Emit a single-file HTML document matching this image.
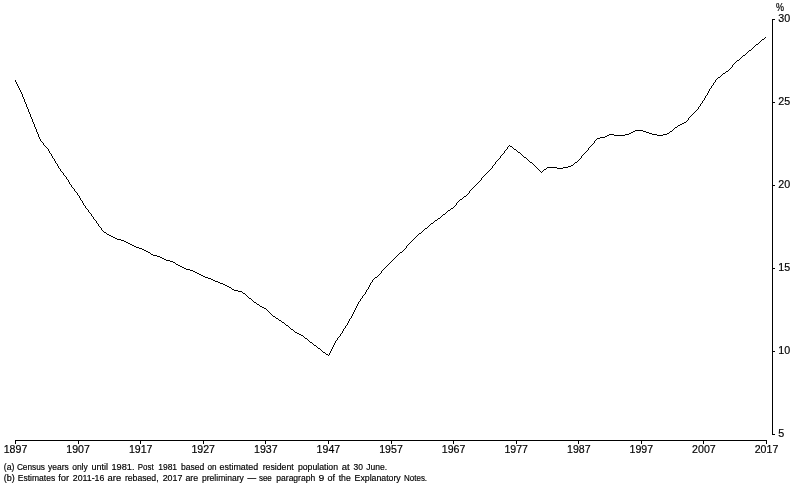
<!DOCTYPE html>
<html><head><meta charset="utf-8"><title>Chart</title>
<style>html,body{margin:0;padding:0;background:#fff}svg{display:block}text{font-family:"Liberation Sans",sans-serif;fill:#000;stroke:#000;stroke-width:0.18px}</style></head><body>
<svg width="794" height="491" viewBox="0 0 794 491">
<rect width="794" height="491" fill="#fff"/>
<g stroke="#000" stroke-width="1" fill="none" shape-rendering="crispEdges">
<path d="M15 440.5H767"/>
<path d="M15.5 440.5V444"/>
<path d="M78.5 440.5V444"/>
<path d="M140.5 440.5V444"/>
<path d="M203.5 440.5V444"/>
<path d="M265.5 440.5V444"/>
<path d="M328.5 440.5V444"/>
<path d="M391.5 440.5V444"/>
<path d="M453.5 440.5V444"/>
<path d="M516.5 440.5V444"/>
<path d="M578.5 440.5V444"/>
<path d="M641.5 440.5V444"/>
<path d="M703.5 440.5V444"/>
<path d="M766.5 440.5V444"/>
<path d="M772.5 19V434.5"/>
<path d="M772.5 19.5H775"/>
<path d="M772.5 102.5H775"/>
<path d="M772.5 185.5H775"/>
<path d="M772.5 268.5H775"/>
<path d="M772.5 351.5H775"/>
<path d="M772.5 434.5H775"/>
<path stroke="none" fill="#000" d="M15 80h1v2h-1zM16 82h1v2h-1zM17 84h1v2h-1zM18 86h1v2h-1zM19 88h1v2h-1zM20 90h1v2h-1zM21 92h1v2h-1zM22 94h1v3h-1zM23 97h1v2h-1zM24 99h1v3h-1zM25 102h1v2h-1zM26 104h1v3h-1zM27 107h1v2h-1zM28 109h1v3h-1zM29 112h1v2h-1zM30 114h1v3h-1zM31 117h1v2h-1zM32 119h1v3h-1zM33 122h1v2h-1zM34 124h1v3h-1zM35 127h1v2h-1zM36 129h1v3h-1zM37 132h1v2h-1zM38 134h1v3h-1zM39 137h1v2h-1zM40 139h1v2h-1zM41 141h1v1h-1zM42 142h1v1h-1zM43 143h1v2h-1zM44 145h1v1h-1zM45 146h1v1h-1zM46 147h1v1h-1zM47 148h1v1h-1zM48 149h1v2h-1zM49 151h1v2h-1zM50 153h1v1h-1zM51 154h1v2h-1zM52 156h1v2h-1zM53 158h1v1h-1zM54 159h1v2h-1zM55 161h1v2h-1zM56 163h1v1h-1zM57 164h1v2h-1zM58 166h1v2h-1zM59 168h1v1h-1zM60 169h1v2h-1zM61 171h1v1h-1zM62 172h1v1h-1zM63 173h1v2h-1zM64 175h1v1h-1zM65 176h1v1h-1zM66 177h1v2h-1zM67 179h1v1h-1zM68 180h1v2h-1zM69 182h1v2h-1zM70 184h1v1h-1zM71 185h1v2h-1zM72 187h1v1h-1zM73 188h1v1h-1zM74 189h1v2h-1zM75 191h1v1h-1zM76 192h1v1h-1zM77 193h1v2h-1zM78 195h1v1h-1zM79 196h1v2h-1zM80 198h1v2h-1zM81 200h1v1h-1zM82 201h1v2h-1zM83 203h1v2h-1zM84 205h1v1h-1zM85 206h1v2h-1zM86 208h1v1h-1zM87 209h1v1h-1zM88 210h1v2h-1zM89 212h1v1h-1zM90 213h1v1h-1zM91 214h1v2h-1zM92 216h1v1h-1zM93 217h1v2h-1zM94 219h1v1h-1zM95 220h1v1h-1zM96 221h1v2h-1zM97 223h1v1h-1zM98 224h1v2h-1zM99 226h1v1h-1zM100 227h1v1h-1zM101 228h1v2h-1zM102 230h1v1h-1zM103 231h1v1h-1zM104 232h2v1h-2zM106 233h1v1h-1zM107 234h2v1h-2zM109 235h2v1h-2zM111 236h2v1h-2zM113 237h2v1h-2zM115 238h2v1h-2zM117 239h4v1h-4zM121 240h3v1h-3zM124 241h2v1h-2zM126 242h2v1h-2zM128 243h2v1h-2zM130 244h2v1h-2zM132 245h2v1h-2zM134 246h2v1h-2zM136 247h3v1h-3zM139 248h3v1h-3zM142 249h2v1h-2zM144 250h2v1h-2zM146 251h2v1h-2zM148 252h2v1h-2zM150 253h1v1h-1zM151 254h2v1h-2zM153 255h4v1h-4zM157 256h3v1h-3zM160 257h2v1h-2zM162 258h2v1h-2zM164 259h2v1h-2zM166 260h4v1h-4zM170 261h3v1h-3zM173 262h2v1h-2zM175 263h1v1h-1zM176 264h2v1h-2zM178 265h2v1h-2zM180 266h2v1h-2zM182 267h2v1h-2zM184 268h2v1h-2zM186 269h4v1h-4zM190 270h3v1h-3zM193 271h2v1h-2zM195 272h2v1h-2zM197 273h2v1h-2zM199 274h2v1h-2zM201 275h2v1h-2zM203 276h2v1h-2zM205 277h3v1h-3zM208 278h3v1h-3zM211 279h2v1h-2zM213 280h2v1h-2zM215 281h3v1h-3zM218 282h2v1h-2zM220 283h3v1h-3zM223 284h2v1h-2zM225 285h2v1h-2zM227 286h2v1h-2zM229 287h2v1h-2zM231 288h1v1h-1zM232 289h2v1h-2zM234 290h4v1h-4zM238 291h4v1h-4zM242 292h1v1h-1zM243 293h2v1h-2zM245 294h1v1h-1zM246 295h1v1h-1zM247 296h1v1h-1zM248 297h1v1h-1zM249 298h2v1h-2zM251 299h1v1h-1zM252 300h1v1h-1zM253 301h1v1h-1zM254 302h2v1h-2zM256 303h1v1h-1zM257 304h2v1h-2zM259 305h1v1h-1zM260 306h2v1h-2zM262 307h2v1h-2zM264 308h2v1h-2zM266 309h1v1h-1zM267 310h1v1h-1zM268 311h1v1h-1zM269 312h1v1h-1zM270 313h1v1h-1zM271 314h1v1h-1zM272 315h1v1h-1zM273 316h2v1h-2zM275 317h1v1h-1zM276 318h2v1h-2zM278 319h1v1h-1zM279 320h2v1h-2zM281 321h1v1h-1zM282 322h2v1h-2zM284 323h1v1h-1zM285 324h1v1h-1zM286 325h2v1h-2zM288 326h1v1h-1zM289 327h1v1h-1zM290 328h1v1h-1zM291 329h2v1h-2zM293 330h1v1h-1zM294 331h1v1h-1zM295 332h2v1h-2zM297 333h2v1h-2zM299 334h2v1h-2zM301 335h2v1h-2zM303 336h1v1h-1zM304 337h1v1h-1zM305 338h2v1h-2zM307 339h1v1h-1zM308 340h1v1h-1zM309 341h1v1h-1zM310 342h2v1h-2zM312 343h1v1h-1zM313 344h1v1h-1zM314 345h2v1h-2zM316 346h1v1h-1zM317 347h1v1h-1zM318 348h2v1h-2zM320 349h1v1h-1zM321 350h1v1h-1zM322 351h1v1h-1zM323 352h2v1h-2zM325 353h1v1h-1zM326 354h2v1h-2zM328 355h1v1h-1zM329 353h1v2h-1zM330 351h1v2h-1zM331 349h1v2h-1zM332 347h1v2h-1zM333 345h1v2h-1zM334 343h1v2h-1zM335 341h1v2h-1zM336 340h1v1h-1zM337 338h1v2h-1zM338 337h1v1h-1zM339 336h1v1h-1zM340 334h1v2h-1zM341 333h1v1h-1zM342 331h1v2h-1zM343 329h1v2h-1zM344 328h1v1h-1zM345 326h1v2h-1zM346 325h1v1h-1zM347 323h1v2h-1zM348 321h1v2h-1zM349 319h1v2h-1zM350 318h1v1h-1zM351 316h1v2h-1zM352 314h1v2h-1zM353 312h1v2h-1zM354 310h1v2h-1zM355 308h1v2h-1zM356 306h1v2h-1zM357 304h1v2h-1zM358 302h1v2h-1zM359 301h1v1h-1zM360 299h1v2h-1zM361 298h1v1h-1zM362 296h1v2h-1zM363 295h1v1h-1zM364 294h1v1h-1zM365 292h1v2h-1zM366 290h1v2h-1zM367 289h1v1h-1zM368 287h1v2h-1zM369 285h1v2h-1zM370 283h1v2h-1zM371 282h1v1h-1zM372 280h1v2h-1zM373 279h1v1h-1zM374 278h1v1h-1zM375 277h2v1h-2zM377 276h1v1h-1zM378 275h1v1h-1zM379 274h1v1h-1zM380 273h1v1h-1zM381 271h1v2h-1zM382 270h1v1h-1zM383 269h1v1h-1zM384 268h1v1h-1zM385 267h1v1h-1zM386 266h1v1h-1zM387 265h1v1h-1zM388 264h1v1h-1zM389 263h1v1h-1zM390 262h1v1h-1zM391 261h1v1h-1zM392 260h1v1h-1zM393 259h1v1h-1zM394 258h1v1h-1zM395 257h1v1h-1zM396 256h1v1h-1zM397 255h1v1h-1zM398 254h1v1h-1zM399 253h1v1h-1zM400 252h2v1h-2zM402 251h1v1h-1zM403 250h1v1h-1zM404 249h1v1h-1zM405 248h1v1h-1zM406 246h1v2h-1zM407 245h1v1h-1zM408 244h1v1h-1zM409 243h1v1h-1zM410 242h1v1h-1zM411 241h1v1h-1zM412 240h1v1h-1zM413 239h1v1h-1zM414 238h1v1h-1zM415 237h1v1h-1zM416 236h1v1h-1zM417 235h1v1h-1zM418 234h1v1h-1zM419 233h2v1h-2zM421 232h1v1h-1zM422 231h1v1h-1zM423 230h1v1h-1zM424 229h1v1h-1zM425 228h2v1h-2zM427 227h1v1h-1zM428 226h1v1h-1zM429 225h1v1h-1zM430 224h1v1h-1zM431 223h2v1h-2zM433 222h1v1h-1zM434 221h1v1h-1zM435 220h2v1h-2zM437 219h1v1h-1zM438 218h2v1h-2zM440 217h1v1h-1zM441 216h1v1h-1zM442 215h1v1h-1zM443 214h2v1h-2zM445 213h1v1h-1zM446 212h1v1h-1zM447 211h1v1h-1zM448 210h2v1h-2zM450 209h1v1h-1zM451 208h2v1h-2zM453 207h1v1h-1zM454 206h1v1h-1zM455 205h1v1h-1zM456 203h1v2h-1zM457 202h1v1h-1zM458 201h1v1h-1zM459 200h1v1h-1zM460 199h2v1h-2zM462 198h1v1h-1zM463 197h1v1h-1zM464 196h2v1h-2zM466 195h1v1h-1zM467 194h1v1h-1zM468 193h1v1h-1zM469 191h1v2h-1zM470 190h1v1h-1zM471 189h1v1h-1zM472 188h1v1h-1zM473 187h1v1h-1zM474 186h1v1h-1zM475 185h1v1h-1zM476 184h1v1h-1zM477 183h1v1h-1zM478 182h1v1h-1zM479 181h1v1h-1zM480 180h1v1h-1zM481 178h1v2h-1zM482 177h1v1h-1zM483 176h1v1h-1zM484 175h1v1h-1zM485 174h1v1h-1zM486 173h1v1h-1zM487 172h1v1h-1zM488 171h1v1h-1zM489 170h1v1h-1zM490 169h1v1h-1zM491 168h1v1h-1zM492 166h1v2h-1zM493 165h1v1h-1zM494 164h1v1h-1zM495 162h1v2h-1zM496 161h1v1h-1zM497 160h1v1h-1zM498 159h1v1h-1zM499 158h1v1h-1zM500 156h1v2h-1zM501 155h1v1h-1zM502 154h1v1h-1zM503 153h1v1h-1zM504 151h1v2h-1zM505 150h1v1h-1zM506 149h1v1h-1zM507 147h1v2h-1zM508 146h1v1h-1zM509 145h1v1h-1zM510 146h2v1h-2zM512 147h1v1h-1zM513 148h1v1h-1zM514 149h2v1h-2zM516 150h1v1h-1zM517 151h1v1h-1zM518 152h2v1h-2zM520 153h1v1h-1zM521 154h1v1h-1zM522 155h1v1h-1zM523 156h1v1h-1zM524 157h2v1h-2zM526 158h1v1h-1zM527 159h1v1h-1zM528 160h1v1h-1zM529 161h1v1h-1zM530 162h2v1h-2zM532 163h1v1h-1zM533 164h1v1h-1zM534 165h1v1h-1zM535 166h1v1h-1zM536 167h1v1h-1zM537 168h1v1h-1zM538 169h1v1h-1zM539 170h1v1h-1zM540 171h1v1h-1zM541 172h1v1h-1zM542 171h1v1h-1zM543 170h1v1h-1zM544 169h2v1h-2zM546 168h1v1h-1zM547 167h10v1h-10zM557 168h6v1h-6zM563 167h5v1h-5zM568 166h3v1h-3zM571 165h2v1h-2zM573 164h1v1h-1zM574 163h1v1h-1zM575 162h2v1h-2zM577 161h1v1h-1zM578 160h1v1h-1zM579 159h1v1h-1zM580 158h1v1h-1zM581 156h1v2h-1zM582 155h1v1h-1zM583 154h1v1h-1zM584 153h1v1h-1zM585 152h1v1h-1zM586 151h1v1h-1zM587 150h1v1h-1zM588 148h1v2h-1zM589 147h1v1h-1zM590 146h1v1h-1zM591 145h1v1h-1zM592 144h1v1h-1zM593 143h1v1h-1zM594 141h1v2h-1zM595 140h1v1h-1zM596 139h1v1h-1zM597 138h3v1h-3zM600 137h5v1h-5zM605 136h2v1h-2zM607 135h2v1h-2zM609 134h5v1h-5zM614 135h11v1h-11zM625 134h4v1h-4zM629 133h2v1h-2zM631 132h2v1h-2zM633 131h2v1h-2zM635 130h8v1h-8zM643 131h3v1h-3zM646 132h3v1h-3zM649 133h3v1h-3zM652 134h5v1h-5zM657 135h6v1h-6zM663 134h4v1h-4zM667 133h2v1h-2zM669 132h1v1h-1zM670 131h2v1h-2zM672 130h1v1h-1zM673 129h1v1h-1zM674 128h1v1h-1zM675 127h2v1h-2zM677 126h1v1h-1zM678 125h2v1h-2zM680 124h2v1h-2zM682 123h2v1h-2zM684 122h2v1h-2zM686 121h1v1h-1zM687 120h1v1h-1zM688 118h1v2h-1zM689 117h1v1h-1zM690 116h1v1h-1zM691 115h1v1h-1zM692 114h1v1h-1zM693 113h1v1h-1zM694 112h1v1h-1zM695 111h1v1h-1zM696 110h1v1h-1zM697 109h1v1h-1zM698 107h1v2h-1zM699 106h1v1h-1zM700 104h1v2h-1zM701 103h1v1h-1zM702 101h1v2h-1zM703 100h1v1h-1zM704 98h1v2h-1zM705 96h1v2h-1zM706 95h1v1h-1zM707 93h1v2h-1zM708 91h1v2h-1zM709 89h1v2h-1zM710 88h1v1h-1zM711 86h1v2h-1zM712 85h1v1h-1zM713 83h1v2h-1zM714 82h1v1h-1zM715 80h1v2h-1zM716 79h1v1h-1zM717 78h1v1h-1zM718 77h2v1h-2zM720 76h1v1h-1zM721 75h1v1h-1zM722 74h1v1h-1zM723 73h2v1h-2zM725 72h1v1h-1zM726 71h2v1h-2zM728 70h1v1h-1zM729 69h1v1h-1zM730 68h1v1h-1zM731 67h1v1h-1zM732 65h1v2h-1zM733 64h1v1h-1zM734 63h1v1h-1zM735 62h1v1h-1zM736 61h1v1h-1zM737 60h2v1h-2zM739 59h1v1h-1zM740 58h1v1h-1zM741 57h1v1h-1zM742 56h1v1h-1zM743 55h2v1h-2zM745 54h1v1h-1zM746 53h1v1h-1zM747 52h1v1h-1zM748 51h1v1h-1zM749 50h2v1h-2zM751 49h1v1h-1zM752 48h1v1h-1zM753 47h1v1h-1zM754 46h1v1h-1zM755 45h1v1h-1zM756 44h2v1h-2zM758 43h1v1h-1zM759 42h1v1h-1zM760 41h1v1h-1zM761 40h1v1h-1zM762 39h2v1h-2zM764 38h1v1h-1zM765 37h1v1h-1z"/>
</g>
<g font-size="11" text-anchor="middle">
<text x="15.5" y="453" textLength="23.6" lengthAdjust="spacingAndGlyphs">1897</text>
<text x="78.1" y="453" textLength="23.6" lengthAdjust="spacingAndGlyphs">1907</text>
<text x="140.7" y="453" textLength="23.6" lengthAdjust="spacingAndGlyphs">1917</text>
<text x="203.2" y="453" textLength="23.6" lengthAdjust="spacingAndGlyphs">1927</text>
<text x="265.8" y="453" textLength="23.6" lengthAdjust="spacingAndGlyphs">1937</text>
<text x="328.4" y="453" textLength="23.6" lengthAdjust="spacingAndGlyphs">1947</text>
<text x="391.0" y="453" textLength="23.6" lengthAdjust="spacingAndGlyphs">1957</text>
<text x="453.6" y="453" textLength="23.6" lengthAdjust="spacingAndGlyphs">1967</text>
<text x="516.2" y="453" textLength="23.6" lengthAdjust="spacingAndGlyphs">1977</text>
<text x="578.8" y="453" textLength="23.6" lengthAdjust="spacingAndGlyphs">1987</text>
<text x="641.3" y="453" textLength="23.6" lengthAdjust="spacingAndGlyphs">1997</text>
<text x="703.9" y="453" textLength="23.6" lengthAdjust="spacingAndGlyphs">2007</text>
<text x="766.5" y="453" textLength="23.6" lengthAdjust="spacingAndGlyphs">2017</text>
</g>
<g font-size="11">
<text x="778.3" y="21.5" textLength="11.9" lengthAdjust="spacingAndGlyphs">30</text>
<text x="778.3" y="104.5" textLength="11.9" lengthAdjust="spacingAndGlyphs">25</text>
<text x="778.3" y="187.5" textLength="11.9" lengthAdjust="spacingAndGlyphs">20</text>
<text x="778.3" y="270.5" textLength="11.9" lengthAdjust="spacingAndGlyphs">15</text>
<text x="778.3" y="353.5" textLength="11.9" lengthAdjust="spacingAndGlyphs">10</text>
<text x="778.3" y="436.5" textLength="6.0" lengthAdjust="spacingAndGlyphs">5</text>
<text x="776" y="11" font-size="10" textLength="8" lengthAdjust="spacingAndGlyphs">%</text>
</g>
<g font-size="9.3">
<text y="470"><tspan x="3.8" textLength="10.6" lengthAdjust="spacingAndGlyphs">(a)</tspan> <tspan x="16.9" textLength="28.1" lengthAdjust="spacingAndGlyphs">Census</tspan> <tspan x="48.1" textLength="20.7" lengthAdjust="spacingAndGlyphs">years</tspan> <tspan x="72.2" textLength="15.5" lengthAdjust="spacingAndGlyphs">only</tspan> <tspan x="91.4" textLength="16.6" lengthAdjust="spacingAndGlyphs">until</tspan> <tspan x="111.5" textLength="23.0" lengthAdjust="spacingAndGlyphs">1981.</tspan> <tspan x="137.8" textLength="15.8" lengthAdjust="spacingAndGlyphs">Post</tspan> <tspan x="158.2" textLength="18.9" lengthAdjust="spacingAndGlyphs">1981</tspan> <tspan x="180.9" textLength="23.4" lengthAdjust="spacingAndGlyphs">based</tspan> <tspan x="207.4" textLength="9.1" lengthAdjust="spacingAndGlyphs">on</tspan> <tspan x="219.6" textLength="38.6" lengthAdjust="spacingAndGlyphs">estimated</tspan> <tspan x="262.7" textLength="31.0" lengthAdjust="spacingAndGlyphs">resident</tspan> <tspan x="297.9" textLength="40.1" lengthAdjust="spacingAndGlyphs">population</tspan> <tspan x="341.7" textLength="7.9" lengthAdjust="spacingAndGlyphs">at</tspan> <tspan x="353.5" textLength="9.4" lengthAdjust="spacingAndGlyphs">30</tspan> <tspan x="366.2" textLength="20.9" lengthAdjust="spacingAndGlyphs">June.</tspan></text>
<text y="481"><tspan x="3.8" textLength="11.0" lengthAdjust="spacingAndGlyphs">(b)</tspan> <tspan x="17.8" textLength="37.4" lengthAdjust="spacingAndGlyphs">Estimates</tspan> <tspan x="58.2" textLength="11.0" lengthAdjust="spacingAndGlyphs">for</tspan> <tspan x="72.8" textLength="31.5" lengthAdjust="spacingAndGlyphs">2011-16</tspan> <tspan x="107.6" textLength="13.6" lengthAdjust="spacingAndGlyphs">are</tspan> <tspan x="124.9" textLength="33.7" lengthAdjust="spacingAndGlyphs">rebased,</tspan> <tspan x="162.7" textLength="19.7" lengthAdjust="spacingAndGlyphs">2017</tspan> <tspan x="185.4" textLength="12.8" lengthAdjust="spacingAndGlyphs">are</tspan> <tspan x="202.0" textLength="41.8" lengthAdjust="spacingAndGlyphs">preliminary</tspan> <tspan x="247.6" textLength="8.6" lengthAdjust="spacingAndGlyphs">—</tspan> <tspan x="258.9" textLength="12.9" lengthAdjust="spacingAndGlyphs">see</tspan> <tspan x="276.3" textLength="38.9" lengthAdjust="spacingAndGlyphs">paragraph</tspan> <tspan x="318.4" textLength="5.8" lengthAdjust="spacingAndGlyphs">9</tspan> <tspan x="327.4" textLength="7.5" lengthAdjust="spacingAndGlyphs">of</tspan> <tspan x="338.7" textLength="12.1" lengthAdjust="spacingAndGlyphs">the</tspan> <tspan x="354.6" textLength="46.1" lengthAdjust="spacingAndGlyphs">Explanatory</tspan> <tspan x="404.0" textLength="23.1" lengthAdjust="spacingAndGlyphs">Notes.</tspan></text>
</g>
</svg></body></html>
